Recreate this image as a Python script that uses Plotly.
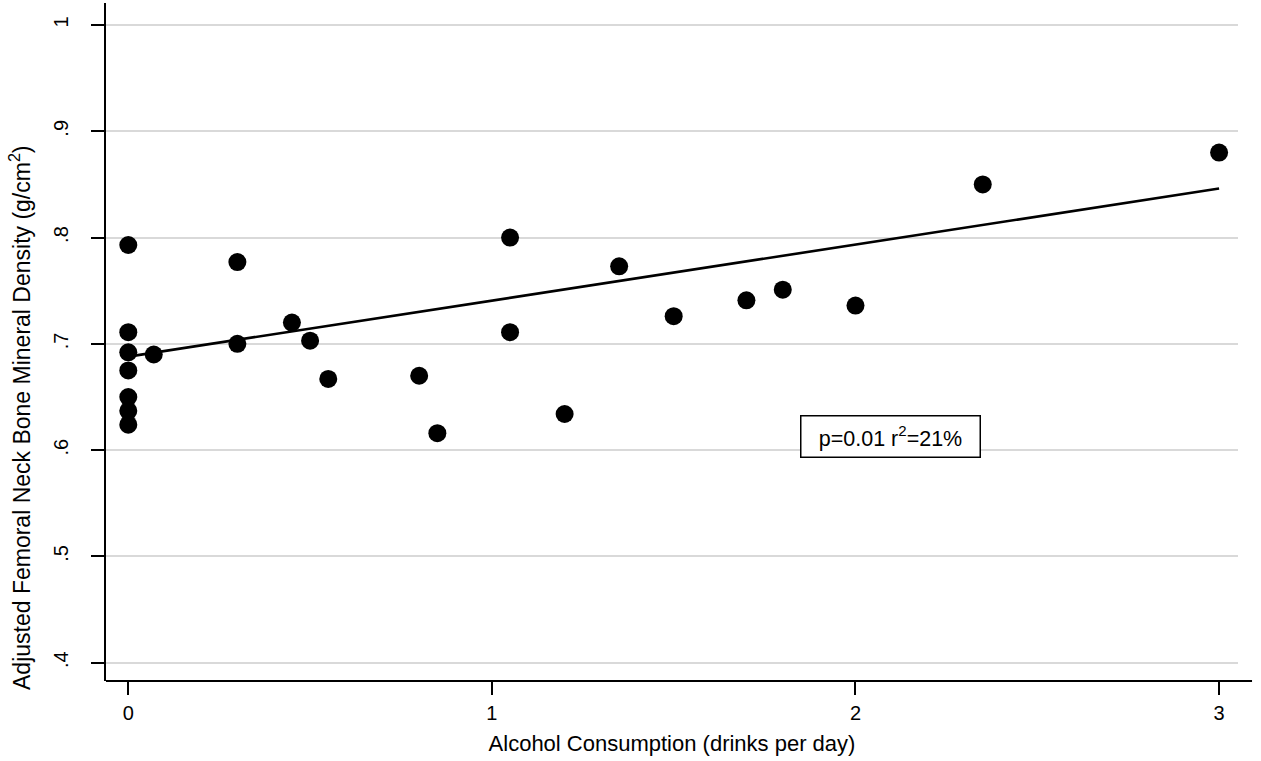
import plotly.graph_objects as go

# Data
alcohol = [0, 0, 0, 0, 0, 0, 0, 0.07, 0.30, 0.30, 0.45, 0.50, 0.55, 0.80, 0.85,
           1.05, 1.05, 1.20, 1.35, 1.50, 1.70, 1.80, 2.00, 2.35, 3.00]
bmd = [0.793, 0.711, 0.692, 0.675, 0.650, 0.637, 0.624, 0.690, 0.777, 0.700, 0.720, 0.703,
       0.667, 0.670, 0.616, 0.800, 0.711, 0.634, 0.773, 0.726, 0.741, 0.751, 0.736, 0.850, 0.880]

fit_intercept = 0.688
fit_slope = 0.0527
fit_x = [0, 3]

x_ticks = [0, 1, 2, 3]
x_ticktext = ["0", "1", "2", "3"]
y_ticks = [0.4, 0.5, 0.6, 0.7, 0.8, 0.9, 1.0]
y_ticktext = [".4", ".5", ".6", ".7", ".8", ".9", "1"]

annot_text = "p=0.01 r<sup>2</sup>=21%"
x_title = "Alcohol Consumption (drinks per day)"
y_title = "Adjusted Femoral Neck Bone Mineral Density (g/cm<sup>2</sup>)"

FONT = "Liberation Sans, Arial, Helvetica, sans-serif"

fit_y = [fit_intercept + fit_slope * v for v in fit_x]

fig = go.Figure()
fig.add_trace(go.Scatter(x=fit_x, y=fit_y, mode="lines",
                         line=dict(color="black", width=2.6), showlegend=False,
                         hoverinfo="skip"))
fig.add_trace(go.Scatter(x=alcohol, y=bmd, mode="markers",
                         marker=dict(color="black", size=18, line=dict(width=0)),
                         showlegend=False))

fig.add_annotation(x=2.097, y=0.6128, xref="x", yref="y", text=annot_text,
                   showarrow=False, font=dict(family=FONT, size=21.5, color="black"),
                   bgcolor="white", bordercolor="black", borderwidth=1.5,
                   width=176, height=38, borderpad=1, align="center", valign="middle")

# y-axis title (placed as in the reference, slightly below the plot centre)
fig.add_annotation(x=-86 / 1132, y=(681 - 418) / 678, xref="paper", yref="paper",
                   text=y_title, textangle=-90, showarrow=False,
                   xanchor="center", yanchor="middle",
                   font=dict(family=FONT, size=23, color="black"))

# extend the x axis line slightly beyond the gridlines, as in the reference
fig.add_shape(type="line", xref="paper", yref="paper", x0=0, x1=1.0124, y0=0, y1=0,
              line=dict(color="black", width=2.2), layer="above")

fig.update_layout(
    width=1261, height=761,
    margin=dict(l=106, r=23, t=3, b=80),
    paper_bgcolor="white", plot_bgcolor="white",
    font=dict(family=FONT, size=20, color="black"),
    xaxis=dict(range=[-0.0613, 3.052], tickvals=x_ticks, ticktext=x_ticktext,
               showgrid=False, zeroline=False, showline=False, automargin=False,
               ticks="outside", ticklen=13, tickwidth=2, tickcolor="black",
               ticklabelstandoff=1,
               tickfont=dict(size=20),
               title=dict(text=x_title, font=dict(size=22), standoff=12)),
    yaxis=dict(range=[0.3828, 1.0207], tickvals=y_ticks, ticktext=y_ticktext,
               showgrid=True, gridcolor="#d9d9d9", gridwidth=2, automargin=False,
               zeroline=False, showline=True, linecolor="black", linewidth=2.2,
               ticks="outside", ticklen=13, tickwidth=2, tickcolor="black",
               tickangle=-90, ticklabelstandoff=15,
               tickfont=dict(size=20)),
)

fig.write_html("out.html", config={"displayModeBar": False},
               post_script="document.body.style.margin='0';document.body.style.padding='0';")
